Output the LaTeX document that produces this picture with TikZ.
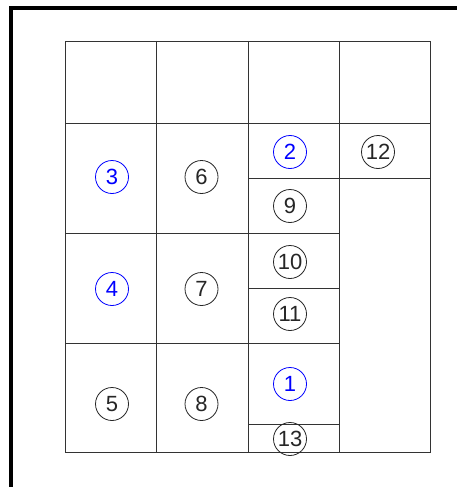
\documentclass[tikz,border=0pt]{standalone}
\usepackage{fontspec}
\setmainfont{Liberation Sans}
\begin{document}
\begin{tikzpicture}[x=1pt,y=-1pt,
  grid/.style={draw=black!80,line width=0.9pt},
  frame/.style={draw=black,line width=4pt},
  tag/.style={circle,draw=black!85,line width=0.8pt,minimum size=33pt,inner sep=0pt,font=\fontsize{22}{22}\selectfont,text=black!85},
  bluetag/.style={tag,draw=blue,text=blue}]
\useasboundingbox (0,0) rectangle (457,487);
\fill[white] (0,0) rectangle (457,487);
% thick frame
\draw[frame] (10.5,487) -- (10.5,8.5) -- (457,8.5);
% grid outline and lines
\draw[grid] (65,41) rectangle (430,452);
\draw[grid] (156.5,41) -- (156.5,452);
\draw[grid] (248,41) -- (248,452);
\draw[grid] (339,41) -- (339,452);
\draw[grid] (65,123) -- (430,123);
\draw[grid] (248,178.5) -- (430,178.5);
\draw[grid] (65,233) -- (339,233);
\draw[grid] (248,288) -- (339,288);
\draw[grid] (65,343) -- (339,343);
\draw[grid] (248,424) -- (339,424);
% tags
\node[bluetag] (n3) at (112,177) {3};
\node[tag] (n6) at (201.5,177) {6};
\node[bluetag] (n4) at (112,289) {4};
\node[tag] (n7) at (201.5,289) {7};
\node[tag] (n5) at (112,404) {5};
\node[tag] (n8) at (201.5,404) {8};
\node[bluetag] (n2) at (290,152) {2};
\node[tag] (n12) at (378,152) {12};
\node[tag] (n9) at (290,206) {9};
\node[tag] (n10) at (290,262) {10};
\node[tag] (n11) at (290,314) {11};
\node[bluetag] (n1) at (290,384) {1};
\node[tag] (n13) at (290,439) {13};
\end{tikzpicture}
\end{document}
